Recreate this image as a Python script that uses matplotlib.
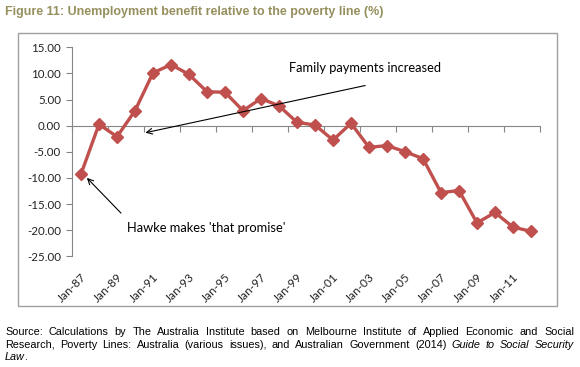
import numpy as np
import matplotlib.pyplot as plt
from matplotlib.patches import Rectangle

# benefit relative to poverty line, yearly Jan-87 .. Jan-12
years = list(range(1987, 2013))
values = [-9.24, 0.27, -2.1, 2.87, 10.1, 11.7, 9.8, 6.5, 6.4, 2.87, 5.2, 3.8, 0.65,
          0.13, -2.74, 0.46, -4.14, -3.8, -4.97, -6.3, -12.8, -12.4, -18.6, -16.6,
          -19.4, -20.2]
tick_labels = ["Jan-87", "Jan-89", "Jan-91", "Jan-93", "Jan-95", "Jan-97", "Jan-99",
               "Jan-01", "Jan-03", "Jan-05", "Jan-07", "Jan-09", "Jan-11"]
y_ticks = [15, 10, 5, 0, -5, -10, -15, -20, -25]

W, H = 580, 367
fig = plt.figure(figsize=(W / 100, H / 100), dpi=100)
ax = fig.add_axes([72 / W, 1 - 256.4 / H, 468 / W, (256.4 - 47.3) / H])

x = np.arange(len(values))
ax.plot(x, values, color="#C0504D", lw=2.4, marker="D", ms=5.8,
        mec="#C0504D", mfc="#C0504D", zorder=3)

ax.set_xlim(-0.5, len(values) - 0.5)
ax.set_ylim(-25, 15)
ax.set_yticks(y_ticks)
ax.set_yticklabels(["%.2f" % v for v in y_ticks])

grey = "#868686"
for s in ["top", "right"]:
    ax.spines[s].set_visible(False)
ax.spines["left"].set_color(grey)
ax.spines["bottom"].set_color(grey)
ax.spines["bottom"].set_position(("data", 0))
ax.tick_params(axis="y", direction="out", length=4, color=grey, pad=4,
               labelsize=8.3, labelcolor="#222222")
ax.set_xticks(np.arange(-0.5, len(values), 2))
ax.tick_params(axis="x", direction="out", length=4, color=grey, labelbottom=False)

sec = ax.secondary_xaxis("bottom")
sec.set_xticks(x[::2])
sec.set_xticklabels(tick_labels, rotation=45, ha="right", rotation_mode="anchor")
sec.tick_params(length=0, pad=10.5, labelsize=8.5, labelcolor="#222222")
sec.spines["bottom"].set_visible(False)

for lab in ax.get_yticklabels() + sec.get_xticklabels():
    lab.set_family("Lato")

# annotations
ax.annotate("", xy=(3.43, -1.45), xytext=(15.94, 7.8),
            arrowprops=dict(arrowstyle="->", color="black", lw=0.8))
ax.text(15.8, 11.0, "Family payments increased", ha="center", va="center",
        fontsize=9.3, family="Lato")
ax.annotate("", xy=(0.22, -9.6), xytext=(2.33, -17.1),
            arrowprops=dict(arrowstyle="->", color="black", lw=0.8))
ax.text(6.94, -19.6, "Hawke makes 'that promise'", ha="center", va="center",
        fontsize=9.3, family="Lato")

# chart border
fig.patches.append(Rectangle((18 / W, 1 - 306 / H), (557 - 18) / W, (306 - 33) / H,
                             transform=fig.transFigure, fill=False, ec="#a0a0a0", lw=1))

fig.text(5 / W, 1 - 12 / H, "Figure 11: Unemployment benefit relative to the poverty line (%)",
         fontsize=9, fontweight="bold", color="#968F5E", family="Liberation Sans",
         va="center", ha="left")

# source note, justified by hand
renderer = fig.canvas.get_renderer()


def put_line(words, base_y, x0, x1, justify=True):
    arts = []
    for w, st in words:
        t = fig.text(0, 1 - base_y / H, w, fontsize=7.8, family="Liberation Sans",
                     style=st, va="baseline", ha="left")
        arts.append(t)
    widths = [a.get_window_extent(renderer).width for a in arts]
    space = 0
    if justify and len(arts) > 1:
        space = (x1 - x0 - sum(widths)) / (len(arts) - 1)
    pos = x0
    for a, w in zip(arts, widths):
        a.set_x(pos / W)
        pos += w + space


line1 = "Source: Calculations by The Australia Institute based on Melbourne Institute of Applied Economic and Social"
line2a = "Research, Poverty Lines: Australia (various issues), and Australian Government (2014)"
line2b = "Guide to Social Security"
put_line([(w, "normal") for w in line1.split()], 335, 5, 574)
put_line([(w, "normal") for w in line2a.split()] + [(w, "italic") for w in line2b.split()],
         347.5, 5, 574)
put_line([("Law", "italic"), (".", "normal")], 360, 5, 574, justify=False)

fig.savefig("out.png", dpi=100, facecolor="white")
